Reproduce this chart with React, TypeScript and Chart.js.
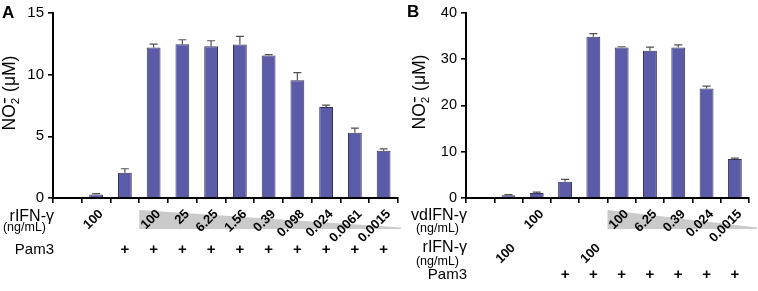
import React, { useEffect, useRef } from 'react';
import { Chart, registerables } from 'chart.js';

Chart.register(...registerables);

const FONT = '"Liberation Sans", Arial, Helvetica, sans-serif';
const BAR_COLOR = '#5b5ba8';
const BAR_BORDER = '#34345e';

// ---------- Panel A data ----------
const categoriesA = [
  'Medium', 'rIFN-γ 100', 'Pam3',
  'rIFN-γ 100 + Pam3', 'rIFN-γ 25 + Pam3', 'rIFN-γ 6.25 + Pam3', 'rIFN-γ 1.56 + Pam3',
  'rIFN-γ 0.39 + Pam3', 'rIFN-γ 0.098 + Pam3', 'rIFN-γ 0.024 + Pam3', 'rIFN-γ 0.0061 + Pam3',
  'rIFN-γ 0.0015 + Pam3',
];
const valuesA = [0, 0.28, 2.05, 12.21, 12.47, 12.31, 12.45, 11.55, 9.55, 7.37, 5.29, 3.83];
const errorsA = [0, 0.08, 0.32, 0.26, 0.36, 0.44, 0.66, 0.08, 0.61, 0.16, 0.38, 0.16];
const yTicksA = { max: 15, step: 5 };
const rIFNLabelsA = ['', '100', '', '100', '25', '6.25', '1.56', '0.39', '0.098', '0.024', '0.0061', '0.0015'];
const pam3A = ['', '', '+', '+', '+', '+', '+', '+', '+', '+', '+', '+'];

// ---------- Panel B data ----------
const categoriesB = [
  'Medium', 'rIFN-γ 100', 'vdIFN-γ 100', 'Pam3', 'rIFN-γ 100 + Pam3',
  'vdIFN-γ 100 + Pam3', 'vdIFN-γ 6.25 + Pam3', 'vdIFN-γ 0.39 + Pam3', 'vdIFN-γ 0.024 + Pam3',
  'vdIFN-γ 0.0015 + Pam3',
];
const valuesB = [0, 0.6, 1.1, 3.5, 34.8, 32.5, 31.8, 32.5, 23.65, 8.4];
const errorsB = [0, 0.12, 0.15, 0.5, 0.7, 0.15, 0.75, 0.55, 0.5, 0.2];
const yTicksB = { max: 40, step: 10 };
const vdIFNLabelsB = ['', '', '100', '', '', '100', '6.25', '0.39', '0.024', '0.0015'];
const rIFNLabelsB = ['', '100', '', '', '100', '', '', '', '', ''];
const pam3B = ['', '', '', '+', '+', '+', '+', '+', '+', '+'];

type Row = {
  title: string;
  unit?: string;
  labels: string[];
  kind: 'rot' | 'plus';
  labelY: number; // relative to chart bottom
  titleY: number; // baseline relative to chart bottom
  unitY?: number;
};

type PanelDef = {
  letter: string;
  letterX: number;
  letterY: number;
  categories: string[];
  values: number[];
  errors: number[];
  yMax: number;
  yStep: number;
  rows: Row[];
  wedgeStart: number;
  wedgeExtend: number;
  canvasLeft: number;
  canvasWidth: number;
  chartLeft: number;
  padTop: number;
  padRight: number;
  chartBottom: number;
  titleX: number;
  titleY: number;
  barPct: number;
  tickFont: number;
};

const H = 291;

function makePlugin(p: PanelDef) {
  return {
    id: 'panelDecor' + p.letter,
    afterDatasetsDraw(chart: any) {
      const ctx = chart.ctx as CanvasRenderingContext2D;
      const meta = chart.getDatasetMeta(0);
      const ys = chart.scales.y;
      ctx.save();
      ctx.strokeStyle = '#505050';
      ctx.lineWidth = 1.2;
      meta.data.forEach((bar: any, i: number) => {
        const e = p.errors[i];
        if (!e) return;
        const v = p.values[i];
        const x = bar.x;
        const y0 = ys.getPixelForValue(v);
        const y1 = ys.getPixelForValue(v + e);
        ctx.beginPath();
        ctx.moveTo(x, y0);
        ctx.lineTo(x, y1);
        ctx.moveTo(x - 4, y1);
        ctx.lineTo(x + 4, y1);
        ctx.stroke();
      });
      ctx.restore();
    },
    afterDraw(chart: any) {
      const ctx = chart.ctx as CanvasRenderingContext2D;
      const xs = chart.scales.x;
      const area = chart.chartArea;
      const bottom = area.bottom;
      const half = (xs.getPixelForValue(1) - xs.getPixelForValue(0)) / 2;
      ctx.save();

      // wedge (dilution gradient)
      const wl = xs.getPixelForValue(p.wedgeStart) - half;
      const wr = area.right + p.wedgeExtend;
      const wt = bottom + 12;
      const wb = bottom + 31;
      ctx.fillStyle = '#cacaca';
      ctx.beginPath();
      ctx.moveTo(wl, wt);
      ctx.lineTo(wr, wb - 1.5);
      ctx.lineTo(wr, wb);
      ctx.lineTo(wl, wb);
      ctx.closePath();
      ctx.fill();

      ctx.fillStyle = '#000';
      // rows
      p.rows.forEach((row) => {
        row.labels.forEach((lab, i) => {
          if (!lab) return;
          const xc = xs.getPixelForValue(i);
          if (row.kind === 'rot') {
            ctx.save();
            ctx.translate(xc + 5, bottom + row.labelY);
            ctx.rotate(-Math.PI / 4);
            ctx.font = `bold 13px ${FONT}`;
            ctx.textAlign = 'right';
            ctx.textBaseline = 'middle';
            ctx.fillText(lab, 0, 0);
            ctx.restore();
          } else {
            ctx.font = `bold 15px ${FONT}`;
            ctx.textAlign = 'center';
            ctx.textBaseline = 'middle';
            ctx.fillText(lab, xc, bottom + row.labelY);
          }
        });
        // row title
        ctx.textAlign = 'right';
        ctx.textBaseline = 'alphabetic';
        ctx.font = `${row.kind === 'plus' ? 15 : 16}px ${FONT}`;
        ctx.fillText(row.title, area.left + 1, bottom + row.titleY);
        if (row.unit) {
          ctx.font = `12.5px ${FONT}`;
          ctx.fillText(row.unit, area.left - 7, bottom + (row.unitY || 0));
        }
      });

      // y-axis title: NO2- (μM)
      ctx.save();
      ctx.translate(p.titleX, p.titleY);
      ctx.rotate(-Math.PI / 2);
      ctx.textAlign = 'left';
      ctx.textBaseline = 'alphabetic';
      const big = `17.5px ${FONT}`;
      const small = `11.5px ${FONT}`;
      ctx.font = big;
      const wNO = ctx.measureText('NO').width;
      const wRest = ctx.measureText(' (μM)').width;
      ctx.font = small;
      const w2 = ctx.measureText('2').width + 1;
      const total = wNO + w2 + wRest;
      let cx = -total / 2;
      ctx.font = big;
      ctx.fillText('NO', cx, 0);
      cx += wNO;
      ctx.font = small;
      ctx.fillText('2', cx, 4);
      // superscript minus
      ctx.fillRect(cx + 1, -11, 5, 1.4);
      cx += w2;
      ctx.font = big;
      ctx.fillText(' (μM)', cx, 0);
      ctx.restore();

      // panel letter
      ctx.font = `bold 17px ${FONT}`;
      ctx.textAlign = 'left';
      ctx.textBaseline = 'alphabetic';
      ctx.fillText(p.letter, p.letterX, p.letterY);

      ctx.restore();
    },
  };
}

function Panel({ p }: { p: PanelDef }) {
  const ref = useRef<HTMLCanvasElement | null>(null);
  useEffect(() => {
    if (!ref.current) return;
    const chart = new Chart(ref.current, {
      type: 'bar',
      data: {
        labels: p.categories,
        datasets: [
          {
            data: p.values,
            backgroundColor: BAR_COLOR,
            borderColor: BAR_BORDER,
            borderWidth: 1,
            barPercentage: p.barPct,
            categoryPercentage: 1,
          },
        ],
      },
      options: {
        animation: false,
        responsive: false,
        devicePixelRatio: 1,
        layout: { padding: { top: p.padTop, right: p.padRight, left: 0, bottom: 0 } },
        plugins: { legend: { display: false }, tooltip: { enabled: false } },
        scales: {
          x: {
            type: 'category',
            ticks: { display: false },
            grid: {
              offset: true,
              drawOnChartArea: false,
              drawTicks: true,
              tickLength: 5,
              color: '#000',
              lineWidth: 1.6,
            },
            border: { display: true, color: '#000', width: 2 },
            afterFit: (s: any) => {
              s.height = H - p.chartBottom;
            },
          },
          y: {
            min: 0,
            max: p.yMax,
            ticks: {
              stepSize: p.yStep,
              color: '#000',
              padding: 4,
              font: { family: FONT, size: p.tickFont },
            },
            grid: {
              drawOnChartArea: false,
              drawTicks: true,
              tickLength: 5,
              color: '#000',
              lineWidth: 1.6,
            },
            border: { display: true, color: '#000', width: 2 },
            afterFit: (s: any) => {
              s.width = p.chartLeft;
            },
          },
        },
      } as any,
      plugins: [makePlugin(p)],
    });
    return () => chart.destroy();
  }, [p]);
  return (
    <canvas
      ref={ref}
      width={p.canvasWidth}
      height={H}
      style={{ position: 'absolute', left: p.canvasLeft, top: 0, width: p.canvasWidth, height: H }}
    />
  );
}

const panelA: PanelDef = {
  letter: 'A',
  letterX: 2,
  letterY: 18,
  categories: categoriesA,
  values: valuesA,
  errors: errorsA,
  yMax: yTicksA.max,
  yStep: yTicksA.step,
  rows: [
    { title: 'rIFN-γ', unit: '(ng/mL)', labels: rIFNLabelsA, kind: 'rot', labelY: 14, titleY: 23, unitY: 33 },
    { title: 'Pam3', labels: pam3A, kind: 'plus', labelY: 52, titleY: 56 },
  ],
  wedgeStart: 3,
  wedgeExtend: 3,
  canvasLeft: 0,
  canvasWidth: 410,
  chartLeft: 53,
  padTop: 10,
  padRight: 12,
  chartBottom: 198,
  titleX: 15,
  titleY: 93,
  barPct: 0.48,
  tickFont: 15,
};

const panelB: PanelDef = {
  letter: 'B',
  letterX: 7,
  letterY: 17,
  categories: categoriesB,
  values: valuesB,
  errors: errorsB,
  yMax: yTicksB.max,
  yStep: yTicksB.step,
  rows: [
    { title: 'vdIFN-γ', unit: '(ng/mL)', labels: vdIFNLabelsB, kind: 'rot', labelY: 14, titleY: 22, unitY: 34 },
    { title: 'rIFN-γ', unit: '(ng/mL)', labels: rIFNLabelsB, kind: 'rot', labelY: 48, titleY: 54, unitY: 67 },
    { title: 'Pam3', labels: pam3B, kind: 'plus', labelY: 77, titleY: 81 },
  ],
  wedgeStart: 5,
  wedgeExtend: 8,
  canvasLeft: 400,
  canvasWidth: 358,
  chartLeft: 66,
  padTop: 11,
  padRight: 9,
  chartBottom: 198,
  titleX: 25,
  titleY: 92,
  barPct: 0.49,
  tickFont: 14.5,
};

export default function App() {
  return (
    <div style={{ position: 'fixed', left: 0, top: 0, width: 758, height: H, background: '#fff', overflow: 'hidden' }}>
      <Panel p={panelA} />
      <Panel p={panelB} />
    </div>
  );
}
